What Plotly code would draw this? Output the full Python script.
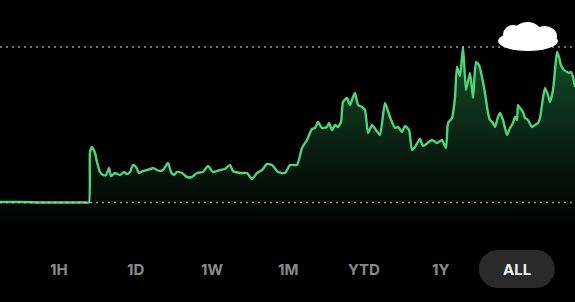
import plotly.graph_objects as go

# ---- data (time index, value) ----
days = [0, 20, 40, 60, 86, 89, 90, 92, 95, 97, 100, 103, 106, 109, 111, 115, 120, 124, 127, 130,
        133, 136, 139, 143, 147, 150, 153, 157, 160, 163, 168, 171, 174, 177, 182, 187, 192,
        197, 203, 208, 213, 220, 225, 230, 233, 240, 247, 252, 257, 262, 267, 272, 278, 285,
        290, 297, 302, 307, 312, 315, 318, 322, 327, 329, 332, 335, 338, 341, 343, 347, 350,
        353, 355, 358, 362, 365, 368, 372, 376, 380, 385, 390, 395, 398, 402, 405, 409, 412,
        415, 420, 423, 432, 437, 442, 446, 448, 452, 455, 457, 460, 463, 466, 470, 473, 476,
        479, 482, 485, 488, 490, 493, 495, 498, 500, 503, 505, 507, 510, 513, 515, 517, 518,
        520, 523, 525, 528, 532, 535, 538, 540, 543, 545, 548, 550, 553, 555, 557, 559, 561,
        564, 567, 569, 571, 573, 575]
values = [28, 28, 27.5, 27.5, 27.5, 27.5, 78, 83, 77, 68, 58, 55, 55, 62, 54, 57, 55, 58, 56, 58,
          65, 63, 57, 59, 60, 61, 62, 60, 59, 60, 67, 58, 55, 58, 57, 53, 53,
          57, 58, 64, 58, 60, 61, 65, 59, 57, 57, 51, 57, 60, 66, 65, 58, 57,
          65, 65, 82, 90, 101, 102, 108, 102, 103, 107, 100, 105, 103, 108, 128, 132, 125,
          133, 137, 125, 123, 120, 97, 105, 100, 95, 127, 113, 102, 103, 98, 104, 100, 80,
          83, 91, 84, 90, 87, 90, 82, 107, 112, 133, 163, 154, 183, 140, 157, 132, 168,
          165, 153, 137, 117, 110, 107, 103, 113, 117, 110, 102, 95, 102, 107, 113, 110, 125,
          122, 118, 112, 110, 103, 105, 107, 112, 132, 142, 135, 128, 140, 160, 178, 173, 165,
          160, 158, 157, 158, 153, 143]
ranges = ["1H", "1D", "1W", "1M", "YTD", "1Y", "ALL"]
selected = "ALL"

W, H = 575, 302
PLOT_BOTTOM = 230  # pixel where chart's zero sits


def px(x):
    return x / W


def py(y):
    return 1 - y / H


fig = go.Figure()
fig.add_trace(go.Scatter(
    x=days, y=values, mode="lines",
    line=dict(color="#4fd47d", width=2.4, shape="spline", smoothing=0.5),
    fill="tozeroy",
    fillgradient=dict(type="vertical",
                      colorscale=[[0, "rgba(0,0,0,1)"], [0.35, "rgb(6,22,12)"], [1, "rgb(22,78,42)"]],
                      start=0, stop=max(values)),
    hoverinfo="skip",
))

shapes = []
# dotted high / low reference lines
for v in (max(values), min(values)):
    shapes.append(dict(type="line", xref="paper", yref="y", x0=0, x1=1, y0=v, y1=v,
                       line=dict(color="rgba(200,200,200,0.75)", width=1.5, dash="2px,4px")))

# white cloud (redaction blob)
for (x0, x1, y0, y1) in [(498, 558, 31, 51), (503, 524, 25, 44), (514, 541, 22, 42), (532, 557, 26, 46)]:
    shapes.append(dict(type="circle", xref="paper", yref="paper", x0=px(x0), x1=px(x1),
                       y0=py(y1), y1=py(y0), fillcolor="white", line=dict(width=0)))

# pill behind selected range
spacing = 76.3
first_cx = 59
sel_i = ranges.index(selected)
cx = first_cx + spacing * sel_i
x0, x1, y0, y1 = cx - 38, cx + 38, 250, 288
r = (y1 - y0) / 2
yc = (y0 + y1) / 2
k = 0.5523 * r


def P(x, y):
    return f"{px(x):.5f},{py(y):.5f}"


path = (f"M {P(x0 + r, y0)} L {P(x1 - r, y0)} "
        f"C {P(x1 - r + k, y0)} {P(x1, yc - k)} {P(x1, yc)} "
        f"C {P(x1, yc + k)} {P(x1 - r + k, y1)} {P(x1 - r, y1)} "
        f"L {P(x0 + r, y1)} "
        f"C {P(x0 + r - k, y1)} {P(x0, yc + k)} {P(x0, yc)} "
        f"C {P(x0, yc - k)} {P(x0 + r - k, y0)} {P(x0 + r, y0)} Z")
shapes.append(dict(type="path", xref="paper", yref="paper", path=path,
                   fillcolor="#2a2a2a", line=dict(width=0), layer="below"))

annotations = []
for i, lab in enumerate(ranges):
    annotations.append(dict(
        text=f"<b>{lab}</b>", xref="paper", yref="paper",
        x=px(first_cx + spacing * i), y=py(269), xanchor="center", yanchor="middle",
        showarrow=False,
        font=dict(family="Inter, Roboto, sans-serif", size=15,
                  color="#f2f2f2" if lab == selected else "#8a8a8a"),
    ))

fig.update_layout(
    width=W, height=H,
    margin=dict(l=0, r=0, t=0, b=0),
    paper_bgcolor="#000000", plot_bgcolor="#000000",
    showlegend=False,
    xaxis=dict(range=[0, 575], visible=False, fixedrange=True),
    yaxis=dict(range=[0, PLOT_BOTTOM], domain=[1 - PLOT_BOTTOM / H, 1], visible=False, fixedrange=True),
    shapes=shapes, annotations=annotations,
    hovermode=False,
)

fig.write_html("out.html", config={"displayModeBar": False})
